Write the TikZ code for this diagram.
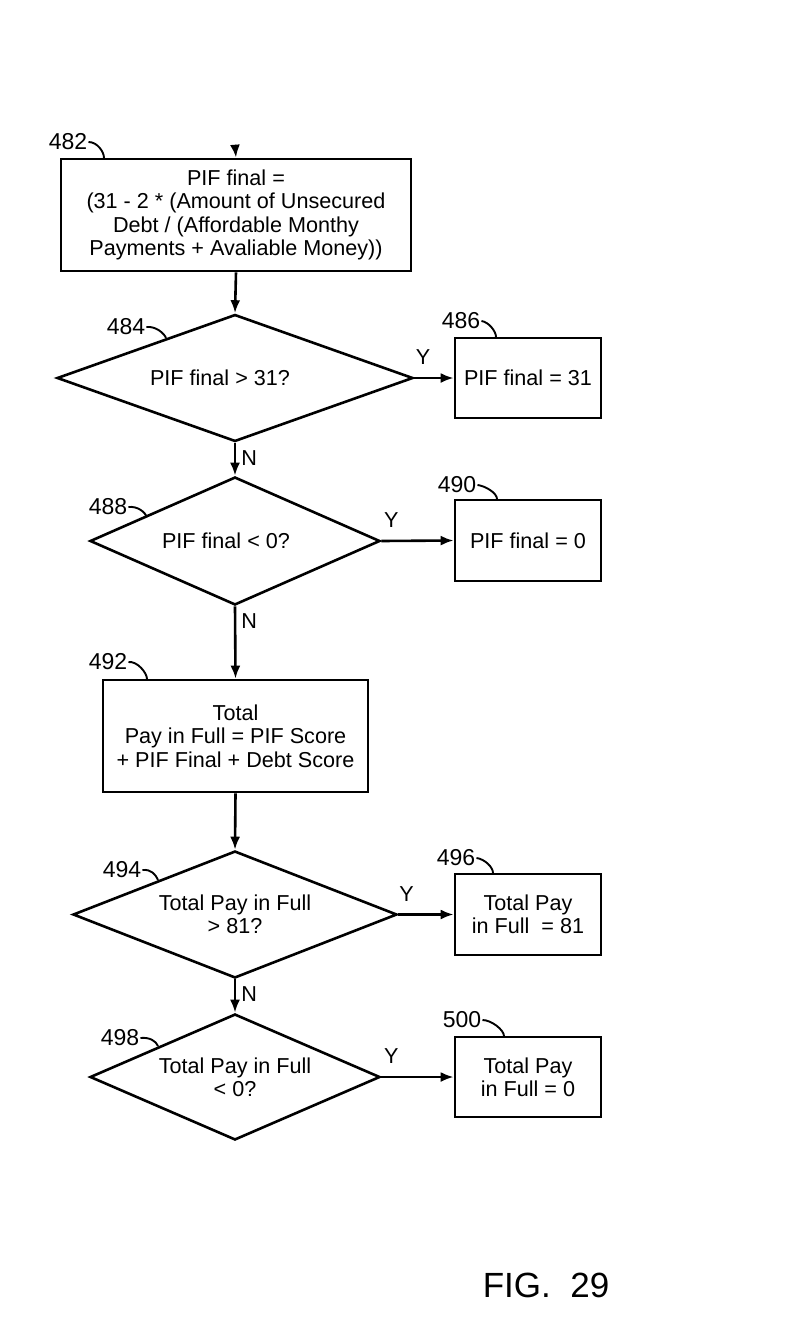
\documentclass[tikz,border=0pt]{standalone}
\usepackage{fontspec}
\setmainfont{Liberation Sans}
\usetikzlibrary{shapes.geometric,arrows.meta,calc}
\newcommand{\mainfs}{\fontsize{21.6}{23.4}\selectfont}
\newcommand{\numfs}{\fontsize{23}{25}\selectfont}
\begin{document}
\begin{tikzpicture}[x=1pt,y=-1pt,line width=2.6pt,
  box/.style={draw,rectangle,inner sep=0pt,align=center,font=\mainfs},
  dec/.style={draw,diamond,inner sep=0pt,aspect=2.8,align=center,font=\mainfs},
  arr/.style={-{Latex[length=13pt,width=10pt]}},
  leader/.style={line width=1.9pt},
  num/.style={font=\numfs,inner sep=0pt},
  yn/.style={font=\mainfs,inner sep=0pt}]
\useasboundingbox (0,0) rectangle (788,1325);

% boxes
\node[box,minimum width=350pt,minimum height=112pt] (b482) at (236,215)
  {PIF final =\\(31 - 2 * (Amount of Unsecured\\Debt / (Affordable Monthy\\Payments + Avaliable Money))};
\node[dec,minimum width=356pt,minimum height=127pt] (d484) at (235,378) {\raisebox{-4pt}{PIF final > 31?}\hspace*{30pt}};
\node[box,minimum width=146pt,minimum height=80pt] (b486) at (528,378) {PIF final = 31};
\node[dec,minimum width=290pt,minimum height=128pt] (d488) at (235,541) {PIF final < 0?\hspace*{18pt}};
\node[box,minimum width=146pt,minimum height=81pt] (b490) at (528,540.5) {PIF final = 0};
\node[box,minimum width=265pt,minimum height=112pt] (b492) at (235.5,736)
  {Total\\Pay in Full = PIF Score\\+ PIF Final + Debt Score};
\node[dec,minimum width=324pt,minimum height=127pt] (d494) at (235,914.5) {Total Pay in Full\\> 81?};
\node[box,minimum width=146pt,minimum height=81pt] (b496) at (528,914.5) {Total Pay\\in Full\ \ = 81};
\node[dec,minimum width=290pt,minimum height=126pt] (d498) at (235,1077) {Total Pay in Full\\< 0?};
\node[box,minimum width=146pt,minimum height=80pt] (b500) at (528,1077) {Total Pay\\in Full = 0};

% connectors
\coordinate (top) at (235,145);
\draw[arr] (top) -- (b482.north);
\draw[arr] (b482.south) -- (d484.north);
\draw[arr] (d484.east) -- node[yn,above=12pt,pos=0.22] {Y} (b486.west);
\draw[arr] (d484.south) -- node[yn,right=5pt,pos=0.45] {N} (d488.north);
\draw[arr] (d488.east) -- node[yn,above=12pt,pos=0.14] {Y} (b490.west);
\draw[arr] (d488.south) -- node[yn,right=5pt,pos=0.2] {N} (b492.north);
\draw[arr] (b492.south) -- (d494.north);
\draw[arr] (d494.east) -- node[yn,above=12pt,pos=0.15] {Y} (b496.west);
\draw[arr] (d494.south) -- node[yn,right=5pt,pos=0.45] {N} (d498.north);
\draw[arr] (d498.east) -- node[yn,above=12pt,pos=0.14] {Y} (b500.west);

% reference numerals
\node[num] (l482) at (68,142) {482};
\draw[leader] (l482.east) .. controls +(9,0) and +(0,-6) .. (104,158);
\node[num] (l484) at (126,327) {484};
\draw[leader] (l484.east) .. controls +(9,-1) and +(-2,-5) .. (166,338);
\node[num] (l486) at (461,321) {486};
\draw[leader] (l486.east) .. controls +(7,1) and +(0,-6) .. (496,337);
\node[num] (l488) at (108,507) {488};
\draw[leader] (l488.east) .. controls +(9,-1) and +(-2,-5) .. (147,517);
\node[num] (l490) at (457,485) {490};
\draw[leader] (l490.east) .. controls +(8,1) and +(0,-6) .. (497,499);
\node[num] (l492) at (108,662) {492};
\draw[leader] (l492.east) .. controls +(9,-1) and +(0,-6) .. (147,679);
\node[num] (l494) at (122,870) {494};
\draw[leader] (l494.east) .. controls +(9,-1) and +(-2,-5) .. (158,880);
\node[num] (l496) at (456,858) {496};
\draw[leader] (l496.east) .. controls +(8,1) and +(0,-6) .. (493,873);
\node[num] (l498) at (120,1038) {498};
\draw[leader] (l498.east) .. controls +(9,-1) and +(-2,-5) .. (158,1046);
\node[num] (l500) at (462,1020) {500};
\draw[leader] (l500.east) .. controls +(9,0) and +(0,-6) .. (504,1036);

\node[inner sep=0pt,font=\fontsize{35}{40}\selectfont] (fig) at (546,1285) {FIG.\ \ 29};
\end{tikzpicture}
\end{document}
